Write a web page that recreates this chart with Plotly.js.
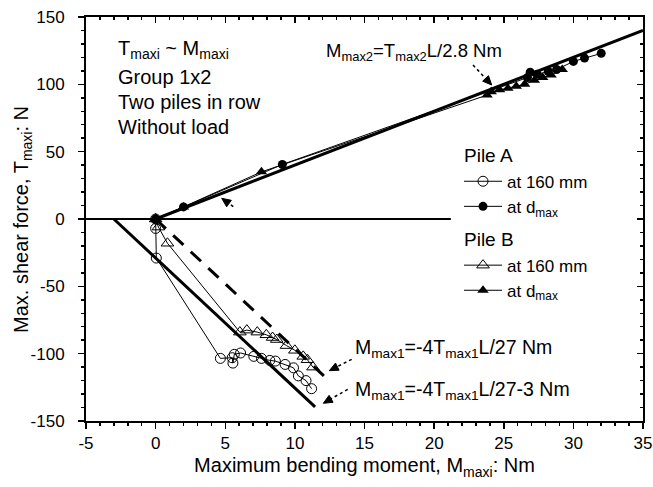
<!DOCTYPE html>
<html><head><meta charset="utf-8">
<script src="https://cdn.plot.ly/plotly-3.0.1.min.js"></script>
<style>html,body{margin:0;padding:0;background:#fff}</style>
</head><body><div id="chart" style="width:653px;height:487px"></div>
<script>
// ---- data ----
const xTickVals = [-5, 0, 5, 10, 15, 20, 25, 30, 35];
const yTickVals = [-150, -100, -50, 0, 50, 100, 150];

// Pile A at 160 mm (open circles)
const pileA160_x = [0, 0, 0.05, 4.65, 5.5, 5.55, 5.65, 6.1, 7.05, 7.6, 8.2, 8.6, 9.3, 9.9, 10.25, 10.8, 11.2];
const pileA160_y = [0, -7, -29, -103.5, -103, -107, -100.5, -99.5, -102, -103.5, -105, -105.5, -108, -110.5, -116.5, -120, -126];
// Pile A at d_max (filled circles)
const pileAdmax_x = [0, 2.0, 9.1, 26.7, 26.9, 27.4, 28.2, 28.8, 30.0, 30.8, 32.0];
const pileAdmax_y = [0, 9, 40.5, 105, 109, 107.5, 109.5, 111, 117, 119.5, 123];
// Pile B at 160 mm (open triangles)
const pileB160_x = [0, 0.2, 0.85, 6.05, 6.55, 7.3, 7.95, 8.4, 8.7, 9.4, 10.0, 10.6, 10.9, 11.3];
const pileB160_y = [0, -6, -18, -84, -82.5, -84, -86, -88, -89.5, -94, -97.5, -102, -104.5, -110];
// Pile B at d_max (filled triangles)
const pileBdmax_x = [0, 2.0, 7.6, 23.8, 24.1, 24.7, 25.3, 25.9, 26.5, 27.2, 27.8, 28.4, 29.2];
const pileBdmax_y = [0, 9, 35, 92, 94.5, 96, 97, 98.5, 100, 103, 105, 107, 111];

// reference lines (end points)
const zeroLine_x = [-5, 21.2];
const zeroLine_y = [0, 0];
const mmax2_x = [0, 35];
const mmax2_y = [0, 140];
const mmax1_x = [0, 12.45];
const mmax1_y = [0, -120];
const mmax1b_x = [-3, 11.45];
const mmax1b_y = [0, -139.5];

// ---- layout helpers ----
const W = 653, H = 487, ML = 86, MR = 10, MT = 17, MB = 66;
const PW = W - ML - MR, PH = H - MT - MB;
const px = v => (v - ML) / PW;
const py = v => (H - MB - v) / PH;
const FONT = 'Arial, "Liberation Sans", sans-serif';

const traces = [
  {x: zeroLine_x, y: zeroLine_y, mode: 'lines', line: {color: '#000', width: 2}, showlegend: false, hoverinfo: 'skip'},
  {x: mmax2_x, y: mmax2_y, mode: 'lines', line: {color: '#000', width: 3}, showlegend: false, hoverinfo: 'skip'},
  {x: mmax1_x, y: mmax1_y, mode: 'lines', line: {color: '#000', width: 3, dash: '14px,10px'}, showlegend: false, hoverinfo: 'skip'},
  {x: mmax1b_x, y: mmax1b_y, mode: 'lines', line: {color: '#000', width: 3}, showlegend: false, hoverinfo: 'skip'},
  {x: pileA160_x, y: pileA160_y, mode: 'lines+markers', name: 'at 160 mm',
   legendgroup: 'A', legendgrouptitle: {text: 'Pile A'},
   line: {color: '#000', width: 1}, marker: {symbol: 'circle-open', size: 10, color: '#000', line: {width: 1}}},
  {x: pileAdmax_x, y: pileAdmax_y, mode: 'lines+markers', name: 'at d<sub>max</sub>',
   legendgroup: 'A',
   line: {color: '#000', width: 1}, marker: {symbol: 'circle', size: 9, color: '#000'}},
  {x: pileB160_x, y: pileB160_y, mode: 'lines+markers', name: 'at 160 mm',
   legendgroup: 'B', legendgrouptitle: {text: 'Pile B'},
   line: {color: '#000', width: 1}, marker: {symbol: 'triangle-up-open', size: 11, color: '#000', line: {width: 1}}},
  {x: pileBdmax_x, y: pileBdmax_y, mode: 'lines+markers', name: 'at d<sub>max</sub>',
   legendgroup: 'B',
   line: {color: '#000', width: 1}, marker: {symbol: 'triangle-up', size: 10, color: '#000'}},
  {x: [], y: [], xaxis: 'x2', yaxis: 'y2', showlegend: false, hoverinfo: 'skip'}
];

const axBase = {
  showgrid: false, zeroline: false, showline: true, linecolor: '#000', linewidth: 2,
  tickcolor: '#000', tickwidth: 1.5, ticklen: 6,
  tickfont: {family: FONT, size: 17, color: '#000'}
};

// dotted arrow: dotted tail line + filled triangular head (pixel coords -> paper)
function arrow(tx, ty, hx, hy) {
  const dx = tx - hx, dy = ty - hy;
  const L = Math.hypot(dx, dy), ux = dx / L, uy = dy / L;
  const hl = 9, hw = 4;
  const bx = hx + ux * hl, by = hy + uy * hl;
  const p1x = bx - uy * hw, p1y = by + ux * hw;
  const p2x = bx + uy * hw, p2y = by - ux * hw;
  return [
    {type: 'line', xref: 'paper', yref: 'paper', x0: px(tx), y0: py(ty), x1: px(bx), y1: py(by),
     line: {color: '#000', width: 1.5, dash: 'dot'}},
    {type: 'path', xref: 'paper', yref: 'paper',
     path: 'M' + px(hx) + ',' + py(hy) + 'L' + px(p1x) + ',' + py(p1y) + 'L' + px(p2x) + ',' + py(p2y) + 'Z',
     fillcolor: '#000', line: {color: '#000', width: 1}}
  ];
}
const arrowShapes = [].concat(
  arrow(473, 65, 491.7, 85),
  arrow(351.7, 359.3, 329.3, 370.7),
  arrow(347.7, 389.3, 323.3, 403.3),
  arrow(233.3, 206.7, 221.7, 198.3)
);

function txt(t, lx, cy, size) {
  return {xref: 'paper', yref: 'paper', x: px(lx), y: py(cy), xanchor: 'left', yanchor: 'middle',
          text: t, showarrow: false, font: {family: FONT, size: size || 20, color: '#000'}};
}

const annotations = [
  txt('T<sub>maxi</sub> ~ M<sub>maxi</sub>', 116, 50, 20),
  txt('Group 1x2', 116, 77, 20),
  txt('Two piles in row', 116, 102, 20),
  txt('Without load', 116, 127, 20),
  txt('M<sub>max2</sub>=T<sub>max2</sub>L/2.8 Nm', 324, 52, 18.5),
  txt('M<sub>max1</sub>=-4T<sub>max1</sub>L/27 Nm', 353, 348, 19.5),
  txt('M<sub>max1</sub>=-4T<sub>max1</sub>L/27-3 Nm', 353, 390, 19.5),
  {xref: 'paper', yref: 'paper', x: px(22), y: py(220), xanchor: 'center', yanchor: 'middle',
   textangle: -90, text: 'Max. shear force, T<sub>maxi</sub>: N', showarrow: false,
   font: {family: FONT, size: 20, color: '#000'}}
];

const layout = {
  width: W, height: H,
  margin: {l: ML, r: MR, t: MT, b: MB},
  paper_bgcolor: '#fff', plot_bgcolor: '#fff',
  font: {family: FONT, color: '#000'},
  showlegend: true,
  legend: {x: px(459), y: py(136), xanchor: 'left', yanchor: 'top', bgcolor: 'rgba(0,0,0,0)',
           font: {family: FONT, size: 17, color: '#000'},
           grouptitlefont: {family: FONT, size: 19, color: '#000'},
           itemwidth: 38, tracegroupgap: 6, itemclick: false},
  xaxis: Object.assign({}, axBase, {
    range: [-5, 35], tickvals: xTickVals, ticktext: xTickVals.map(String), ticks: 'outside',
    minor: {dtick: 1, ticks: 'outside', ticklen: 3, tickcolor: '#000', tickwidth: 1.5},
    title: {text: 'Maximum bending moment, M<sub>maxi</sub>: Nm', font: {family: FONT, size: 20, color: '#000'}, standoff: 6}
  }),
  yaxis: Object.assign({}, axBase, {
    range: [-150, 150], tickvals: yTickVals, ticktext: yTickVals.map(String), ticks: 'outside',
    ticklabelstandoff: 10, automargin: false,
    minor: {dtick: 10, ticks: 'outside', ticklen: 3, tickcolor: '#000', tickwidth: 1.5}
  }),
  xaxis2: Object.assign({}, axBase, {
    overlaying: 'x', side: 'top', range: [-5, 35], tickvals: xTickVals, ticks: 'inside', showticklabels: false,
    minor: {dtick: 1, ticks: 'inside', ticklen: 3, tickcolor: '#000', tickwidth: 1.5}
  }),
  yaxis2: Object.assign({}, axBase, {
    overlaying: 'y', side: 'right', range: [-150, 150], tickvals: yTickVals, ticks: 'inside', showticklabels: false,
    minor: {dtick: 10, ticks: 'inside', ticklen: 3, tickcolor: '#000', tickwidth: 1.5}
  }),
  shapes: arrowShapes,
  annotations: annotations
};

Plotly.newPlot('chart', traces, layout, {displayModeBar: false, staticPlot: true});
</script>
</body></html>
